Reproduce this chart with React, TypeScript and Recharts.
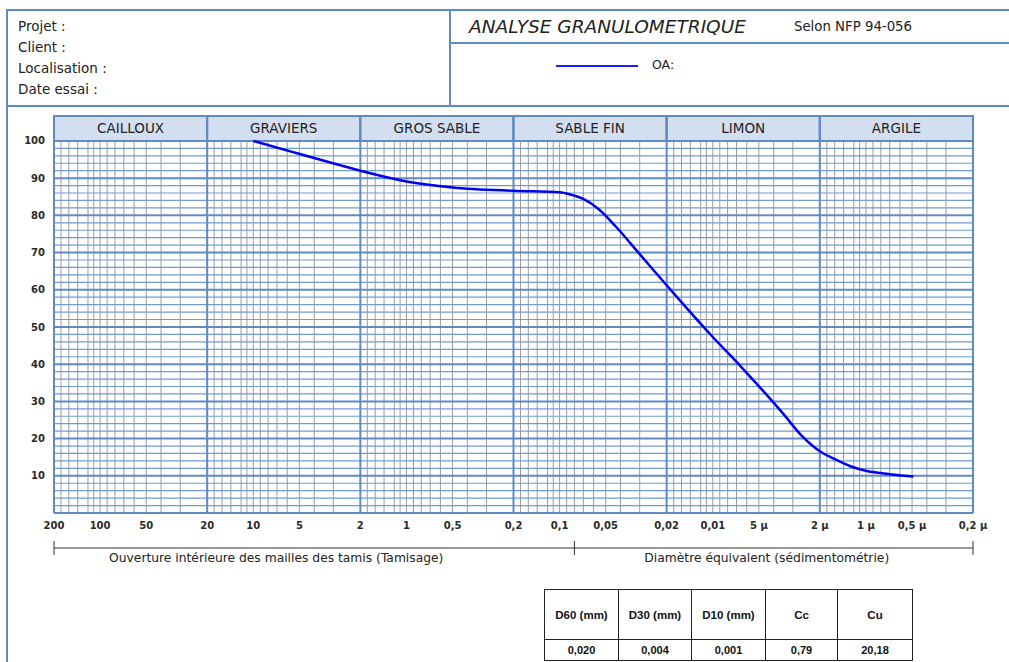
import React from 'react';
import { LineChart, Line, XAxis, YAxis, ReferenceLine, ReferenceArea } from 'recharts';

// grain size (mm) and % passing
const SIZE = [10, 5.73, 3.14, 2, 1.72, 1, 0.5, 0.2, 0.1, 0.085, 0.07, 0.055, 0.043, 0.0296, 0.02, 0.0155, 0.01, 0.0066, 0.0042, 0.00344, 0.00266, 0.002, 0.00162, 0.00125, 0.00097, 0.00076, 0.00059, 0.00049];
const PASSING = [100, 97.2, 94.2, 92, 91.3, 89.1, 87.5, 86.6, 86.2, 85.6, 84.4, 81.5, 77, 69.3, 61.2, 56, 47.3, 39.5, 30.6, 26.5, 21, 16.6, 14.6, 12.5, 11.2, 10.6, 10.1, 9.8];

const X_TICKS = [200, 100, 50, 20, 10, 5, 2, 1, 0.5, 0.2, 0.1, 0.05, 0.02, 0.01, 0.005, 0.002, 0.001, 0.0005, 0.0002];
const X_LABELS = ['200', '100', '50', '20', '10', '5', '2', '1', '0,5', '0,2', '0,1', '0,05', '0,02', '0,01', '5 µ', '2 µ', '1 µ', '0,5 µ', '0,2 µ'];
const Y_TICKS = [10, 20, 30, 40, 50, 60, 70, 80, 90, 100];

const DECADES = [200, 20, 2, 0.2, 0.02, 0.002, 0.0002];
const BANDS = ['CAILLOUX', 'GRAVIERS', 'GROS SABLE', 'SABLE FIN', 'LIMON', 'ARGILE'];
const MINOR_FACTORS = [0.9, 0.8, 0.7, 0.6, 0.55, 0.5, 0.45, 0.4, 0.35, 0.3, 0.25, 0.2, 0.15];

const BRACKET_TICKS = [200, 0.08, 0.0002];
const BRACKET_LABELS = [
    { at: 7.08, text: 'Ouverture intérieure des mailles des tamis (Tamisage)' },
    { at: 0.00444, text: 'Diamètre équivalent (sédimentométrie)' },
];

const TABLE_HEAD = ['D60 (mm)', 'D30 (mm)', 'D10 (mm)', 'Cc', 'Cu'];
const TABLE_VALUES = ['0,020', '0,004', '0,001', '0,79', '20,18'];

const FRAME = '#5f8ac6';
const FONT = '"DejaVu Sans", Verdana, sans-serif';

const data = SIZE.map((s, i) => ({ size: s, pass: PASSING[i] }));

const minorX: number[] = [];
DECADES.slice(0, -1).forEach(d => MINOR_FACTORS.forEach(f => minorX.push(d * f)));
const minorY: number[] = [];
for (let v = 0; v <= 100; v += 2) if (v % 10 !== 0) minorY.push(v);
const majorY = [0, ...Y_TICKS];

function BracketTick(props: any) {
    const { x, y, payload } = props;
    const label = BRACKET_LABELS.find(l => l.at === payload.value);
    if (label) {
        return (
            <text x={x} y={y + 14} textAnchor="middle" fontSize={12.3} fill="#222" fontFamily={FONT}>
                {label.text}
            </text>
        );
    }
    return <line x1={x} x2={x} y1={y - 7} y2={y + 7} stroke="#333" strokeWidth={1} />;
}

const line = (style: React.CSSProperties): React.CSSProperties => ({ position: 'absolute', background: FRAME, ...style });
const txt = (left: number, cy: number, size: number, extra: React.CSSProperties = {}): React.CSSProperties => ({
    position: 'absolute', left, top: cy - 10, height: 20, lineHeight: '20px', fontSize: size,
    fontFamily: FONT, color: '#222', whiteSpace: 'nowrap', ...extra,
});

export default function App() {
    const colW = [73, 72, 73, 71, 74];
    return (
        <div style={{ position: 'absolute', left: 0, top: 0, width: 1009, height: 662, background: '#fff', overflow: 'hidden' }}>
            {/* frame */}
            <div style={line({ left: 6, top: 9, width: 1003, height: 2 })} />
            <div style={line({ left: 6, top: 9, width: 2, height: 653 })} />
            <div style={line({ left: 449, top: 9, width: 2, height: 97 })} />
            <div style={line({ left: 449, top: 42, width: 560, height: 2 })} />
            <div style={line({ left: 6, top: 105, width: 1003, height: 2 })} />

            <div style={txt(18, 26, 13.5)}>Projet :</div>
            <div style={txt(18, 46.5, 13.5)}>Client :</div>
            <div style={txt(18, 67.5, 13.5)}>Localisation :</div>
            <div style={txt(18, 89, 13.5)}>Date essai :</div>

            <div style={txt(469, 27, 18.5, { fontStyle: 'italic' })}>ANALYSE GRANULOMETRIQUE</div>
            <div style={txt(794, 27, 13.3)}>Selon NFP 94-056</div>
            <div style={{ position: 'absolute', left: 556, top: 65, width: 82, height: 1.5, background: '#1a1aff' }} />
            <div style={txt(652, 65, 12.5)}>OA:</div>

            <div style={{ position: 'absolute', left: 0, top: 0 }}>
                <LineChart width={1009} height={662} data={data} margin={{ top: 116, right: 36, bottom: 74, left: 0 }}>
                    <XAxis
                        dataKey="size"
                        type="number"
                        scale="log"
                        domain={[0.0002, 200]}
                        reversed
                        allowDataOverflow
                        ticks={X_TICKS}
                        interval={0}
                        tickFormatter={(v: number) => X_LABELS[X_TICKS.indexOf(v)] ?? ''}
                        axisLine={false}
                        tickLine={false}
                        tickSize={0}
                        tickMargin={9}
                        height={35}
                        tick={{ fontSize: 10, fontWeight: 'bold', fill: '#2a2a2a', fontFamily: FONT }}
                    />
                    <XAxis
                        xAxisId="b"
                        dataKey="size"
                        type="number"
                        scale="log"
                        domain={[0.0002, 200]}
                        reversed
                        allowDataOverflow
                        ticks={[...BRACKET_TICKS, ...BRACKET_LABELS.map(l => l.at)]}
                        interval={0}
                        axisLine={{ stroke: '#333', strokeWidth: 1 }}
                        tickLine={false}
                        tickSize={0}
                        tickMargin={0}
                        height={40}
                        tick={<BracketTick />}
                    />
                    <YAxis
                        type="number"
                        domain={[0, 106.7]}
                        allowDataOverflow
                        ticks={Y_TICKS}
                        interval={0}
                        width={54}
                        axisLine={false}
                        tickLine={false}
                        tickSize={0}
                        tickMargin={9}
                        tick={{ fontSize: 10, fontWeight: 'bold', fill: '#2a2a2a', fontFamily: FONT }}
                    />

                    {minorX.map(v => (
                        <ReferenceLine key={'mx' + v} segment={[{ x: v, y: 0 }, { x: v, y: 100 }]} stroke="#9c9c9c" strokeWidth={1} ifOverflow="visible" />
                    ))}
                    {minorY.map(v => (
                        <ReferenceLine key={'my' + v} y={v} stroke="#729bd2" strokeWidth={1.2} ifOverflow="visible" />
                    ))}
                    {majorY.map(v => (
                        <ReferenceLine key={'My' + v} y={v} stroke={FRAME} strokeWidth={2} ifOverflow="visible" />
                    ))}
                    {BANDS.map((b, i) => (
                        <ReferenceArea
                            key={b}
                            x1={DECADES[i]}
                            x2={DECADES[i + 1]}
                            y1={100}
                            y2={106.7}
                            fill="#d3dff0"
                            fillOpacity={1}
                            stroke={FRAME}
                            strokeWidth={2}
                            ifOverflow="visible"
                            label={{ value: b, position: 'center', fill: '#222', fontSize: 13.5, fontFamily: FONT }}
                        />
                    ))}
                    {DECADES.map(v => (
                        <ReferenceLine key={'d' + v} x={v} stroke={FRAME} strokeWidth={2} ifOverflow="visible" />
                    ))}

                    <Line type="monotone" dataKey="pass" stroke="#0000f0" strokeWidth={2.5} dot={false} isAnimationActive={false} />
                </LineChart>
            </div>

            <table style={{ position: 'absolute', left: 544, top: 589, borderCollapse: 'collapse', fontFamily: '"Liberation Sans", Arial, sans-serif', fontWeight: 'bold', color: '#111' }}>
                <tbody>
                    <tr style={{ height: 50, fontSize: 11.5 }}>
                        {TABLE_HEAD.map((h, i) => (
                            <td key={h} style={{ width: colW[i], border: '1px solid #222', textAlign: 'center', padding: 0 }}>{h}</td>
                        ))}
                    </tr>
                    <tr style={{ height: 21, fontSize: 11 }}>
                        {TABLE_VALUES.map((v, i) => (
                            <td key={v} style={{ width: colW[i], border: '1px solid #222', textAlign: 'center', padding: 0 }}>{v}</td>
                        ))}
                    </tr>
                </tbody>
            </table>
        </div>
    );
}
